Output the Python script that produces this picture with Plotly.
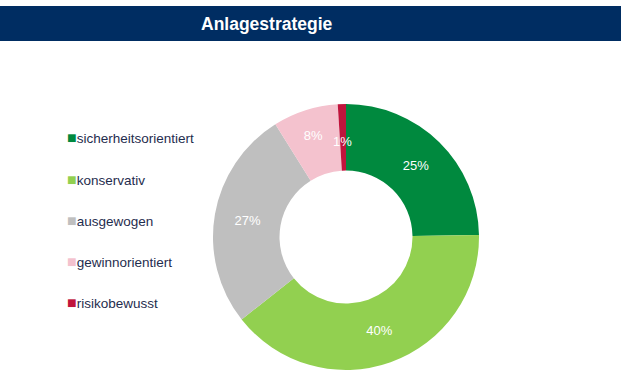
import math
import plotly.graph_objects as go

categories = ["sicherheitsorientiert", "konservativ", "ausgewogen", "gewinnorientiert", "risikobewusst"]
values = [25, 40, 27, 8, 1]
labels_text = ["25%", "40%", "27%", "8%", "1%"]
colors = ["#00893E", "#92D050", "#BFBFBF", "#F4C2CE", "#C0143C"]
title = "Anlagestrategie"

W, H = 621, 383
FONT = "Liberation Sans, Arial, sans-serif"

# pie domain in pixels
px0, px1, py0, py1 = 213, 479, 104, 370
cx, cy = (px0 + px1) / 2, (py0 + py1) / 2
R = (px1 - px0) / 2
hole = 0.5

# slices too thin for inside text get an annotation at mid radius
thin = [v / sum(values) < 0.03 for v in values]
slice_text = ["" if t else s for s, t in zip(labels_text, thin)]

fig = go.Figure()
fig.add_trace(go.Pie(
    labels=categories,
    values=values,
    text=slice_text,
    texttemplate="%{text}",
    textposition="inside",
    insidetextorientation="horizontal",
    textfont=dict(family=FONT, size=13, color="white"),
    marker=dict(colors=colors, line=dict(width=0)),
    hole=hole,
    sort=False,
    direction="clockwise",
    rotation=0,
    showlegend=False,
    domain=dict(x=[px0 / W, px1 / W], y=[1 - py1 / H, 1 - py0 / H]),
    hovertext=labels_text,
    hoverinfo="label+text",
))

# title bar
fig.add_shape(type="rect", xref="paper", yref="paper", x0=0, x1=1,
              y0=1 - 41 / H, y1=1 - 6 / H, fillcolor="#002D62", line=dict(width=0), layer="below")

annotations = [dict(text="<b>" + title + "</b>", xref="paper", yref="paper", x=267 / W, y=1 - 23.5 / H,
                    xanchor="center", yanchor="middle", showarrow=False,
                    font=dict(family=FONT, size=17.5, color="white"))]

# labels for thin slices
total = sum(values)
cum = 0
for v, s, t in zip(values, labels_text, thin):
    if t:
        ang = (cum + v / 2) / total * 2 * math.pi
        rm = R * (1 + hole) / 2 * 0.96
        x = cx + rm * math.sin(ang) - 1
        y = cy - rm * math.cos(ang)
        annotations.append(dict(text=s, xref="paper", yref="paper", x=x / W, y=1 - y / H,
                                xanchor="center", yanchor="middle", showarrow=False,
                                font=dict(family=FONT, size=13, color="white")))
    cum += v

# legend as annotations
legend_y = [137, 179, 220, 261, 302]
for name, col, ly in zip(categories, colors, legend_y):
    annotations.append(dict(
        text=f"<span style='color:{col};font-size:16px'>■</span>{name}",
        xref="paper", yref="paper", x=65 / W, y=1 - ly / H,
        xanchor="left", yanchor="middle", showarrow=False,
        font=dict(family=FONT, size=13.5, color="#1F2D4E"),
    ))

fig.update_layout(
    width=W, height=H,
    margin=dict(l=0, r=0, t=0, b=0),
    paper_bgcolor="white", plot_bgcolor="white",
    annotations=annotations,
    uniformtext=dict(mode="show", minsize=13),
)

fig.write_html("out.html", config={"displayModeBar": False},
               post_script="document.body.style.margin='0px';document.body.style.overflow='hidden';")
